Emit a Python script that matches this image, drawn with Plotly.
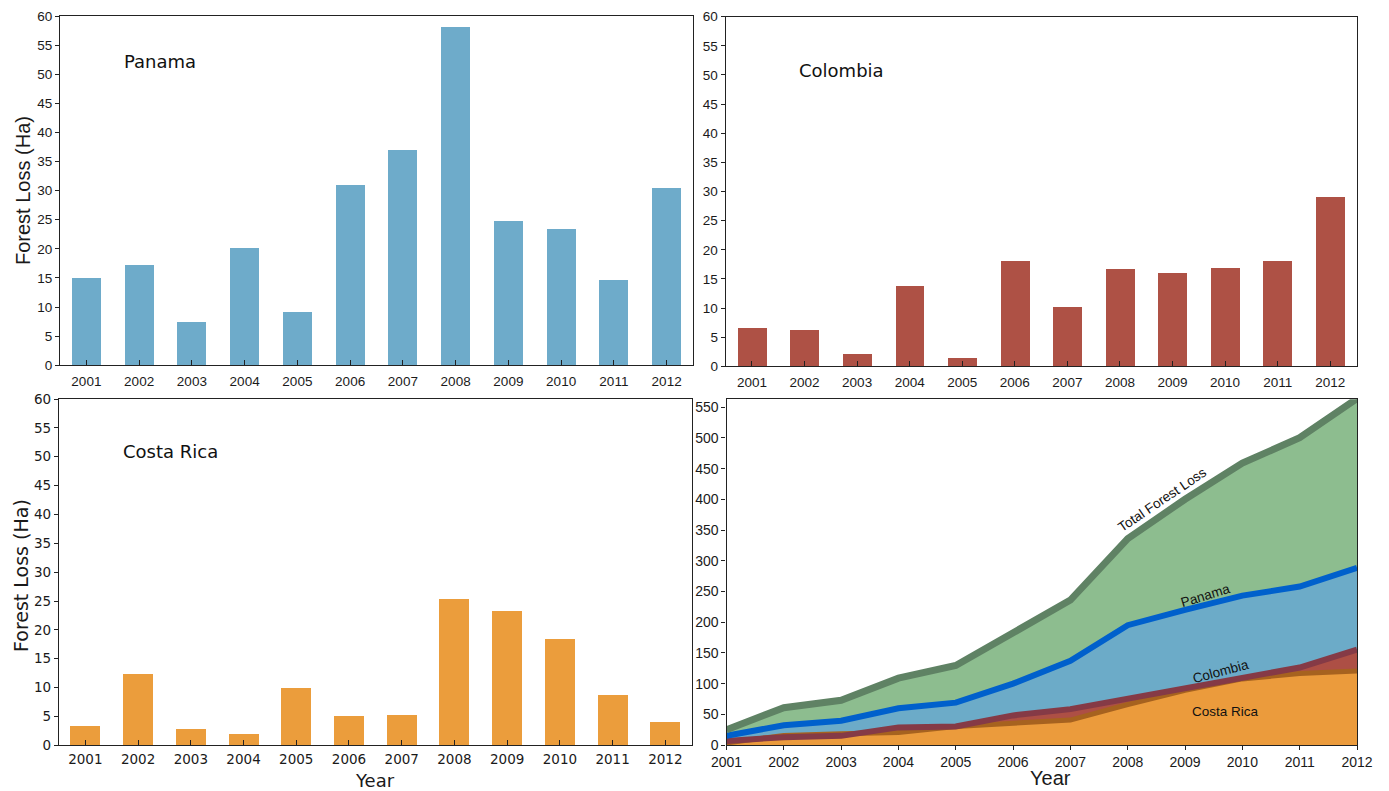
import numpy as np
import plotly.graph_objects as go

# Annual forest loss (Ha) by country
years = ["2001", "2002", "2003", "2004", "2005", "2006",
         "2007", "2008", "2009", "2010", "2011", "2012"]
year_nums = [int(y) for y in years]
panama = [15.0, 17.2, 7.4, 20.2, 9.2, 31.0, 37.0, 58.1, 24.8, 23.4, 14.7, 30.5]
colombia = [6.6, 6.2, 2.1, 13.8, 1.4, 18.1, 10.2, 16.7, 16.0, 17.0, 18.1, 29.1]
costa_rica = [3.3, 12.35, 2.8, 1.96, 9.9, 5.07, 5.25, 25.3, 23.3, 18.4, 8.7, 4.0]

bar_ticks = [0, 5, 10, 15, 20, 25, 30, 35, 40, 45, 50, 55, 60]
cum_ticks = [0, 50, 100, 150, 200, 250, 300, 350, 400, 450, 500, 550]

# Cumulative loss per country and combined
cum_pan = np.cumsum(panama)
cum_col = np.cumsum(colombia)
cum_cr = np.cumsum(costa_rica)
cum_total = cum_pan + cum_col + cum_cr

W, H = 1389, 791
HELV = "Liberation Sans, Arial, sans-serif"
LUCIDA = "DejaVu Sans, sans-serif"
AXC = "#222222"

C_PAN, C_COL, C_CR = "#6eabca", "#ae5145", "#eb9d3c"

fig = go.Figure()

bar_w = 0.55
fig.add_trace(go.Bar(x=years, y=panama, marker=dict(color=C_PAN, line_width=0),
                     width=bar_w, xaxis="x", yaxis="y"))
fig.add_trace(go.Bar(x=years, y=colombia, marker=dict(color=C_COL, line_width=0),
                     width=bar_w, xaxis="x2", yaxis="y2"))
fig.add_trace(go.Bar(x=years, y=costa_rica, marker=dict(color=C_CR, line_width=0),
                     width=0.57, xaxis="x3", yaxis="y3"))

# Cumulative areas (overlapping, each from zero)
fills = [(cum_total, "#8dbd8f"), (cum_pan, "#6cabc8"), (cum_col, "#ad4f45"), (cum_cr, "#eb9b3c")]
for vals, col in fills:
    fig.add_trace(go.Scatter(x=year_nums, y=vals, mode="lines", fill="tozeroy",
                             fillcolor=col, line=dict(width=0, color=col),
                             xaxis="x4", yaxis="y4", hoverinfo="skip"))
lines = [(cum_cr, "#a6621f", 5), (cum_col, "#853a46", 6),
         (cum_pan, "#0060cc", 6), (cum_total, "#5f8264", 7)]
for vals, col, w in lines:
    fig.add_trace(go.Scatter(x=year_nums, y=vals, mode="lines",
                             line=dict(width=w, color=col),
                             xaxis="x4", yaxis="y4", hoverinfo="skip"))


def px_x(a, b):
    return [a / W, b / W]


def px_y(top, bottom):
    return [1 - bottom / H, 1 - top / H]


def cat_x(domain, font, anchor, standoff=3):
    return dict(domain=domain, type="category", range=[-0.5, 11.5], anchor=anchor,
                showline=True, linecolor=AXC, linewidth=1.2, mirror=True,
                ticks="inside", ticklen=5, tickcolor=AXC, tickwidth=1.2,
                ticklabelstandoff=standoff,
                tickfont=font, showgrid=False, zeroline=False, fixedrange=True,
                automargin=False)


def bar_y(domain, font, anchor):
    return dict(domain=domain, range=[0, 60], anchor=anchor, tickvals=bar_ticks,
                showline=True, linecolor=AXC, linewidth=1.2, mirror=True,
                ticks="outside", ticklen=4, tickcolor=AXC, tickwidth=1.2,
                tickfont=font, showgrid=False, zeroline=False, fixedrange=True,
                automargin=False)


f_helv = dict(family=HELV, size=13.5, color="#1a1a1a")
f_luc = dict(family=LUCIDA, size=13.5, color="#1a1a1a")
f_helv_br = dict(family=HELV, size=14, color="#1a1a1a")

layout = dict(
    width=W, height=H, autosize=False,
    margin=dict(l=0, r=0, t=0, b=0, pad=0, autoexpand=False),
    paper_bgcolor="white", plot_bgcolor="white", showlegend=False,
    xaxis=cat_x(px_x(60, 693), f_helv, "y"),
    yaxis=bar_y(px_y(16, 365.3), f_helv, "x"),
    xaxis2=cat_x(px_x(725.7, 1356.5), f_helv, "y2"),
    yaxis2=bar_y(px_y(16.7, 366.3), f_helv, "x2"),
    xaxis3=cat_x(px_x(59, 691.7), f_luc, "y3", standoff=1),
    yaxis3=bar_y(px_y(399, 745.3), f_luc, "x3"),
    xaxis4=dict(domain=px_x(726.5, 1357), range=[2001, 2012], anchor="y4",
                tickvals=year_nums, ticktext=years,
                showline=True, linecolor=AXC, linewidth=1.2, mirror=True,
                ticks="outside", ticklen=4, tickcolor=AXC, tickwidth=1.2,
                tickfont=f_helv_br, showgrid=False, zeroline=False, fixedrange=True,
                automargin=False),
    yaxis4=dict(domain=px_y(399.3, 745), range=[0, 563], anchor="x4", tickvals=cum_ticks,
                showline=True, linecolor=AXC, linewidth=1.2, mirror=True,
                ticks="outside", ticklen=4, tickcolor=AXC, tickwidth=1.2,
                tickfont=f_helv_br, showgrid=False, zeroline=False, fixedrange=True,
                automargin=False),
    bargap=0,
)
fig.update_layout(**layout)


def note(text, x, y, font, xref="paper", yref="paper", angle=0):
    fig.add_annotation(text=text, x=x, y=y, xref=xref, yref=yref, showarrow=False,
                       textangle=angle, font=font, xanchor="center", yanchor="middle")


def P(xp, yp):
    return xp / W, 1 - yp / H


panel_font = dict(family=LUCIDA, size=18, color="#111111")
note("Panama", *P(160, 62), panel_font)
note("Colombia", *P(841, 71), panel_font)
note("Costa Rica", *P(170, 451), panel_font)

note("Forest Loss (Ha)", *P(23, 191), dict(family=HELV, size=20, color="#1a1a1a"), angle=-90)
note("Forest Loss (Ha)", *P(21, 576), dict(family=LUCIDA, size=19, color="#1a1a1a"), angle=-90)
note("Year", *P(375, 780), dict(family=LUCIDA, size=18, color="#1a1a1a"))
note("Year", *P(1050, 778), dict(family=HELV, size=20, color="#1a1a1a"))

lab_font = dict(family=HELV, size=13.5, color="#111111")
note("Total Forest Loss", 2008.61, 399, lab_font, "x4", "y4", angle=-34)
note("Panama", 2009.36, 244, lab_font, "x4", "y4", angle=-17)
note("Colombia", 2009.62, 120, lab_font, "x4", "y4", angle=-15)
note("Costa Rica", 2009.7, 54, lab_font, "x4", "y4")

fig.write_html("out.html")
